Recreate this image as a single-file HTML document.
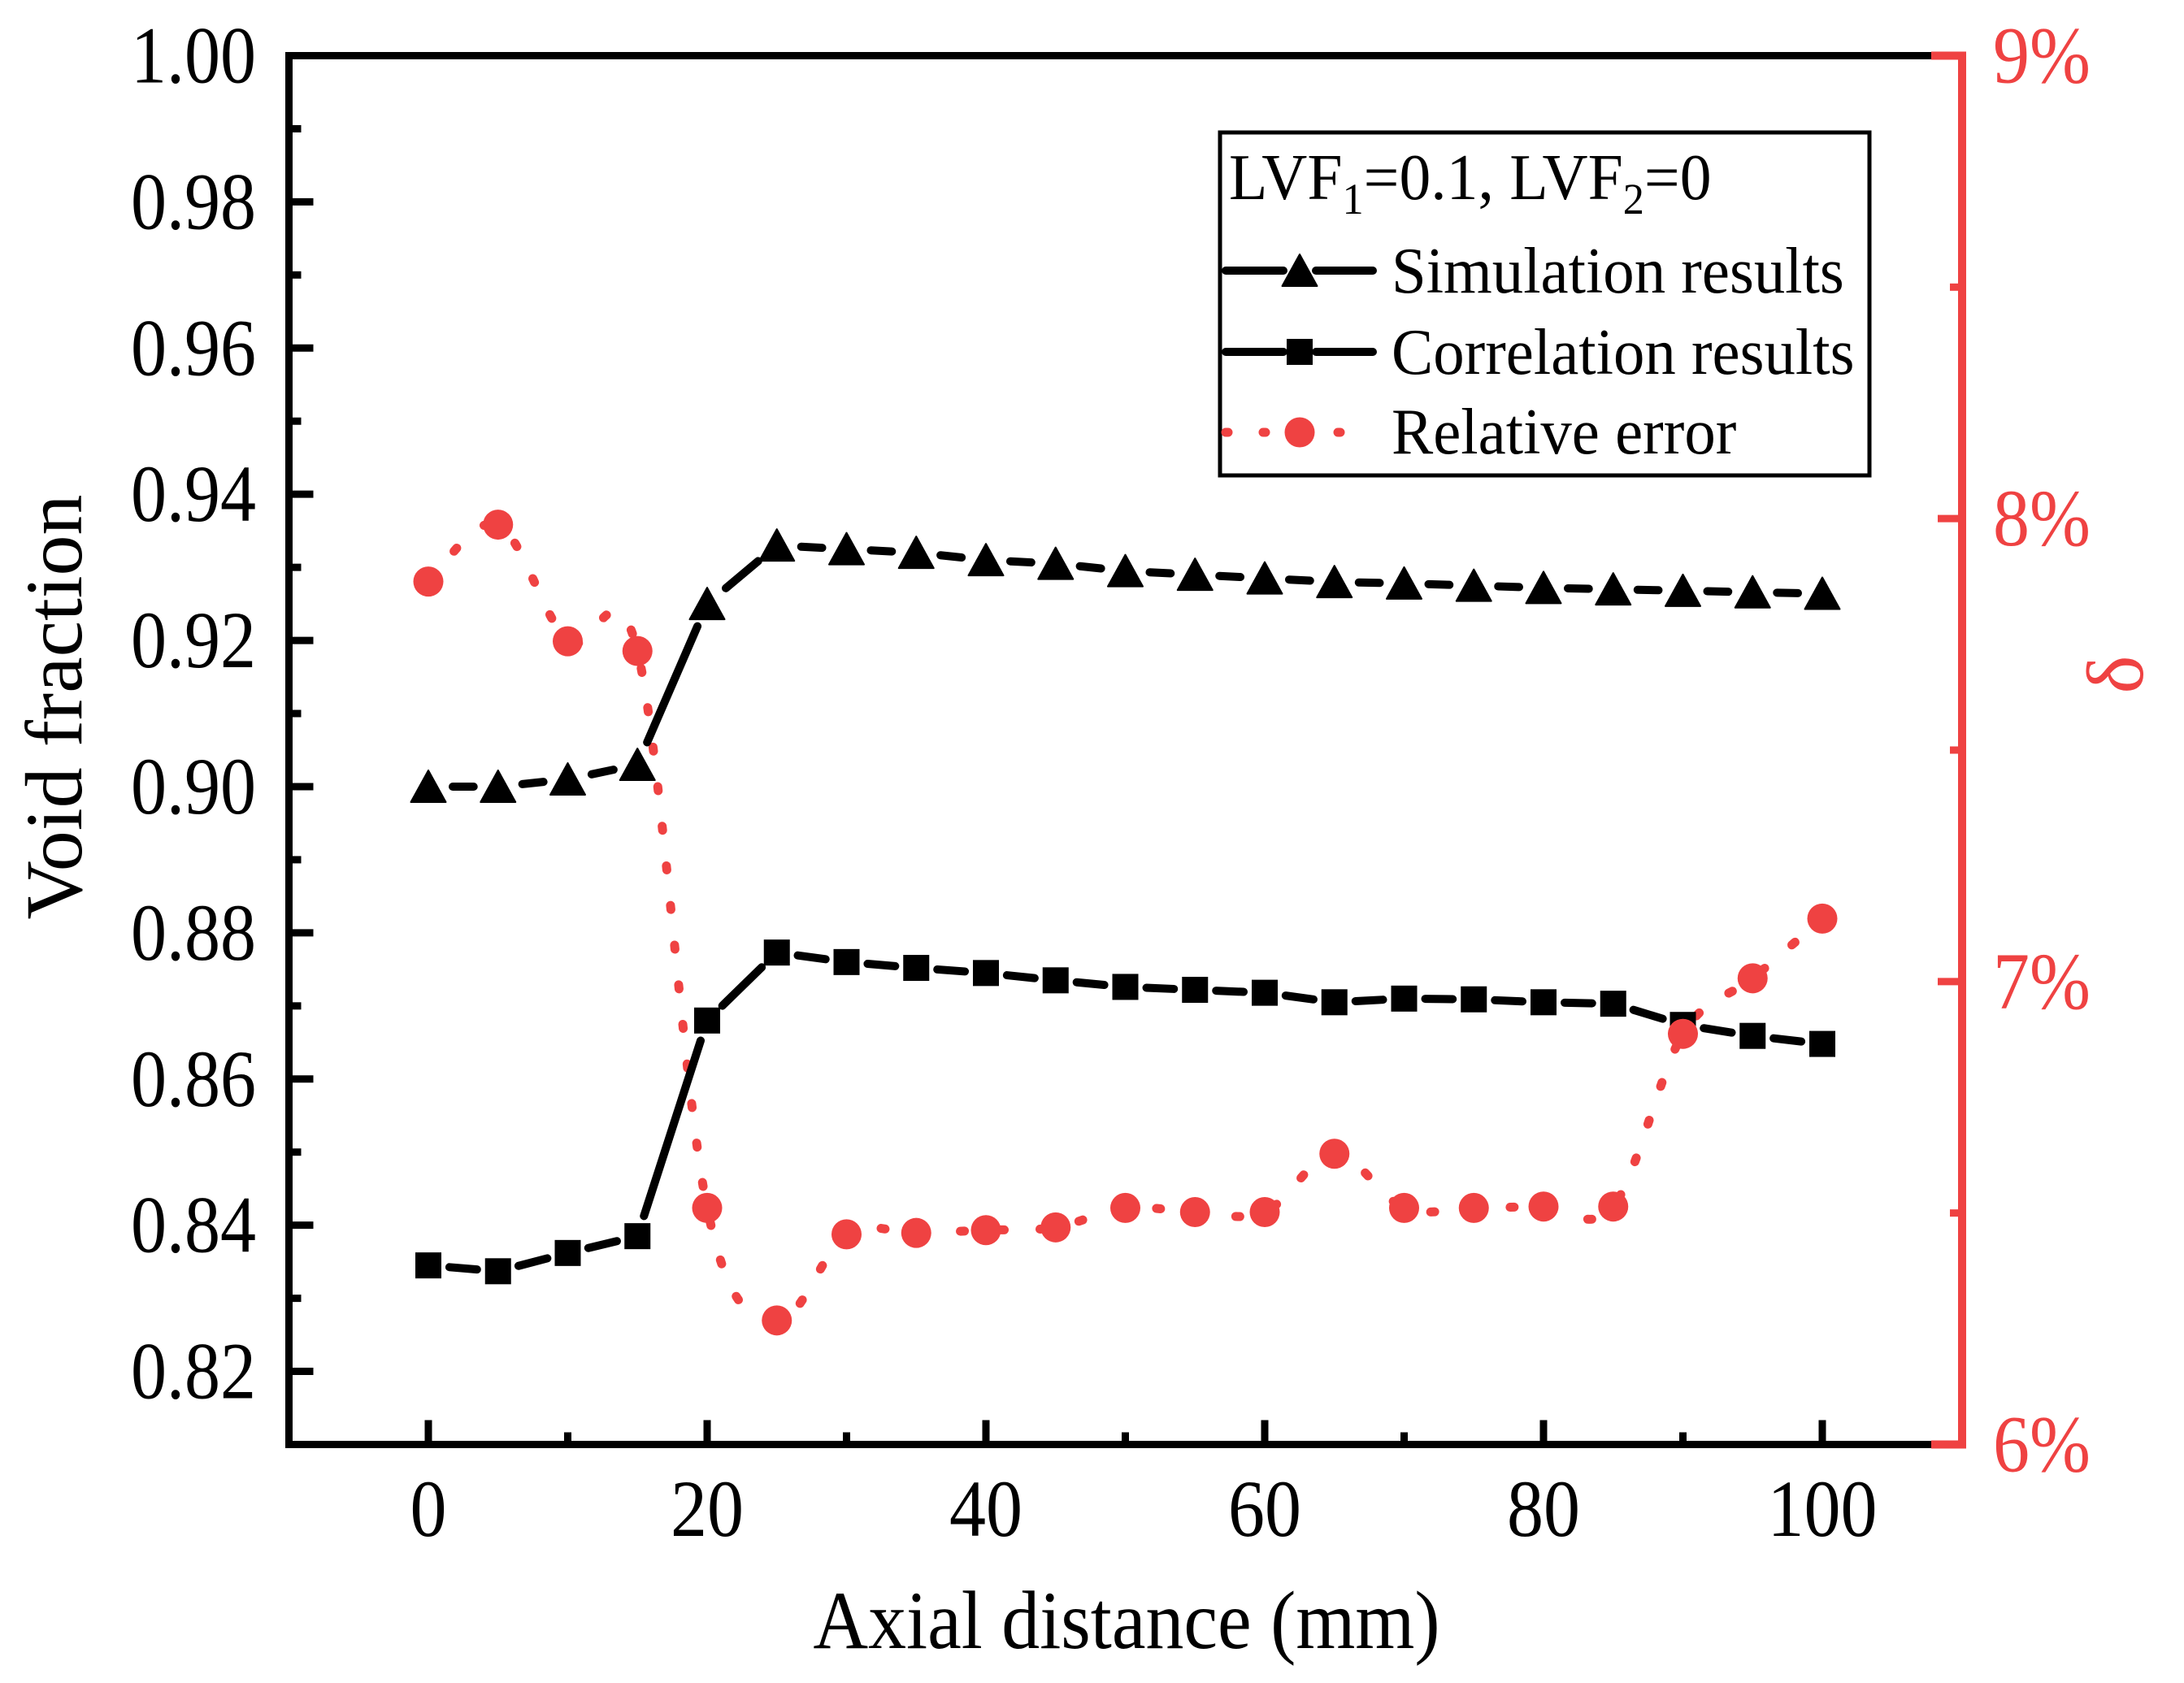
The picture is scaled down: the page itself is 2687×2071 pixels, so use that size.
<!DOCTYPE html>
<html><head><meta charset="utf-8"><style>
html,body{margin:0;padding:0;background:#fff;}
svg{display:block;font-family:"Liberation Serif",serif;}
</style></head><body>
<svg id="chart" width="2687" height="2071" viewBox="0 0 2687 2071" xmlns="http://www.w3.org/2000/svg">
<rect width="2687" height="2071" fill="#fff"/>
<g id="plot"></g>
</svg>
<script>
const xValues = [0,5,10,15,20,25,30,35,40,45,50,55,60,65,70,75,80,85,90,95,100];
const simValues = [0.900,0.900,0.901,0.903,0.925,0.933,0.9325,0.932,0.931,0.9305,0.9295,0.929,0.9285,0.928,0.9278,0.9275,0.9272,0.927,0.9268,0.9266,0.9264];
const corrValues = [0.8345,0.8337,0.8362,0.8385,0.868,0.8773,0.876,0.8752,0.8745,0.8735,0.8726,0.8722,0.8718,0.8705,0.871,0.8709,0.8705,0.8703,0.8674,0.8659,0.8648];
const errValues = [7.864,7.987,7.735,7.714,6.511,6.268,6.454,6.457,6.463,6.469,6.511,6.502,6.502,6.628,6.511,6.511,6.514,6.514,6.887,7.007,7.136];
const xTicks = [0,20,40,60,80,100];
const yTicks = [0.82,0.84,0.86,0.88,0.90,0.92,0.94,0.96,0.98,1.00];
const rTicks = [6,7,8,9];

const NS='http://www.w3.org/2000/svg';
const L=355.5,R=2414,T=68.5,B=1777.5;
const RED='#EF4242';
const xs=v=>527+(v-0)*(2242-527)/100;
const ys=v=>T+(1.00-v)*(B-T)/0.19;
const rs=v=>B-(v-6)*(B-T)/3;
const g=document.getElementById('plot');
const squeeze=[];
function el(tag,attrs,parent){const e=document.createElementNS(NS,tag);for(const k in attrs)e.setAttribute(k,attrs[k]);(parent||g).appendChild(e);return e;}

for(let v=0;v<=100;v+=10){
  const major=v%20===0;
  const t=el('line',{x1:xs(v),x2:xs(v),y1:B,y2:B-(major?30:15),stroke:'#000','stroke-width':9});
  
  
}
for(let i=0;i<=18;i++){
  const v=0.82+i*0.01;const major=i%2===0;
  if(v>0.999)continue;
  const t=el('line',{x1:L,x2:L+(major?30:15),y1:ys(v),y2:ys(v),stroke:'#000','stroke-width':9});
  
  
}
for(let v=6.5;v<9;v+=0.5){
  const major=Math.abs(v-Math.round(v))<0.01;
  const t=el('line',{x1:R,x2:R-(major?30:15),y1:rs(v),y2:rs(v),stroke:RED,'stroke-width':9});
  
  
}
let a;
a=el('path',{d:`M${R} ${T} H${L} V${B} H${R-10}`,fill:'none',stroke:'#000','stroke-width':9,'stroke-linejoin':'miter'});


a=el('path',{d:`M${R-38} ${T} H${R} V${B} H${R-38}`,fill:'none',stroke:RED,'stroke-width':10,'stroke-linejoin':'miter'});



xTicks.forEach(v=>{
  const t=el('text',{x:xs(v),y:1890,'font-size':100,'text-anchor':'middle',fill:'#000'});
  t.textContent=String(v);
  
  
  squeeze.push([t,0.9]);
});
yTicks.forEach(v=>{
  const t=el('text',{x:315,y:ys(v)+33,'font-size':100,'text-anchor':'end',fill:'#000'});
  t.textContent=v.toFixed(2);
  
  
  squeeze.push([t,0.88]);
});
rTicks.forEach(v=>{
  const t=el('text',{x:2452,y:rs(v)+33,'font-size':100,fill:RED});
  t.textContent=v+'%';
  
  
  squeeze.push([t,0.9]);
});
let tt=el('text',{x:1386,y:2028,'font-size':102,'text-anchor':'middle',fill:'#000'});
tt.textContent='Axial distance (mm)';


squeeze.push([tt,0.92]);
tt=el('text',{x:0,y:0,'font-size':100,'text-anchor':'middle',fill:'#000',transform:'translate(100,870) rotate(-90)'});
tt.textContent='Void fraction';


tt=el('text',{x:0,y:0,'font-size':100,'text-anchor':'middle',fill:RED,transform:'translate(2636,830) rotate(-90)'});
tt.textContent='δ';



function gapLine(pts,gap,name){
  for(let i=0;i<pts.length-1;i++){
    const [x1,y1]=pts[i],[x2,y2]=pts[i+1];
    const dx=x2-x1,dy=y2-y1,d=Math.hypot(dx,dy);
    if(d<=2*gap)continue;
    const ux=dx/d,uy=dy/d;
    const s=el('line',{x1:x1+ux*gap,y1:y1+uy*gap,x2:x2-ux*gap,y2:y2-uy*gap,stroke:'#000','stroke-width':10,'stroke-linecap':'round'});
    
    
  }
}
function tri(cx,cy,parent){
  return el('polygon',{points:`${cx},${cy-20} ${cx-21.5},${cy+19} ${cx+21.5},${cy+19}`,fill:'#000','stroke':'#000','stroke-width':2,'stroke-linejoin':'round'},parent);
}
function sq(cx,cy,parent){return el('rect',{x:cx-16,y:cy-16,width:32,height:32,fill:'#000'},parent);}

const ePts=xValues.map((x,i)=>[xs(x),rs(errValues[i])]);
let d=`M${ePts[0][0]} ${ePts[0][1]}`;
for(let i=0;i<ePts.length-1;i++){
  const p0=ePts[Math.max(0,i-1)],p1=ePts[i],p2=ePts[i+1],p3=ePts[Math.min(ePts.length-1,i+2)];
  const c1=[p1[0]+(p2[0]-p0[0])/6,p1[1]+(p2[1]-p0[1])/6];
  const c2=[p2[0]-(p3[0]-p1[0])/6,p2[1]-(p3[1]-p1[1])/6];
  d+=` C${c1[0]} ${c1[1]} ${c2[0]} ${c2[1]} ${p2[0]} ${p2[1]}`;
}
const ep=el('path',{d:d,fill:'none',stroke:RED,'stroke-width':11,'stroke-linecap':'round','stroke-dasharray':'5 44'});



const sPts=xValues.map((x,i)=>[xs(x),ys(simValues[i])]);
const cPts=xValues.map((x,i)=>[xs(x),ys(corrValues[i])]);
gapLine(sPts,30,'simulation-line');
gapLine(cPts,26,'correlation-line');
sPts.forEach(p=>{const m=tri(p[0],p[1]);
  
  });
cPts.forEach(p=>{const m=sq(p[0],p[1]);
  
  });
ePts.forEach(p=>{const m=el('circle',{cx:p[0],cy:p[1],r:18.5,fill:RED});
  
  });

const lg=el('g',{});


el('rect',{x:1501,y:163,width:799,height:422,fill:'#fff',stroke:'#000','stroke-width':5},lg);
const lt=el('text',{x:1512,y:245,'font-size':80,fill:'#000'},lg);


lt.innerHTML='LVF<tspan font-size="54" dy="18">1</tspan><tspan dy="-18">=0.1, LVF</tspan><tspan font-size="54" dy="18">2</tspan><tspan dy="-18">=0</tspan>';
squeeze.push([lt,0.97]);
[[333,'Simulation results','tri',360],[433,'Correlation results','sq',460],[532,'Relative error','circ',558]].forEach(([y,label,kind,by])=>{
  const e=el('g',{},lg);
  
  
  if(kind==='circ'){
    el('line',{x1:1508,x2:1690,y1:y,y2:y,stroke:RED,'stroke-width':11,'stroke-linecap':'round','stroke-dasharray':'3 43'},e);
    el('circle',{cx:1599,cy:y,r:18.5,fill:RED},e);
  }else{
    el('line',{x1:1508,x2:1579,y1:y,y2:y,stroke:'#000','stroke-width':10,'stroke-linecap':'round'},e);
    el('line',{x1:1619,x2:1689,y1:y,y2:y,stroke:'#000','stroke-width':10,'stroke-linecap':'round'},e);
    if(kind==='tri')tri(1599,y,e);else sq(1599,y,e);
  }
  const t=el('text',{x:1712,y:by,'font-size':80,fill:'#000'},e);
  t.textContent=label;
  squeeze.push([t,0.96]);
});
squeeze.forEach(([t,f])=>{
  const w=t.getComputedTextLength();
  t.setAttribute('textLength',(w*f).toFixed(1));
  t.setAttribute('lengthAdjust','spacingAndGlyphs');
});
</script>
</body></html>
